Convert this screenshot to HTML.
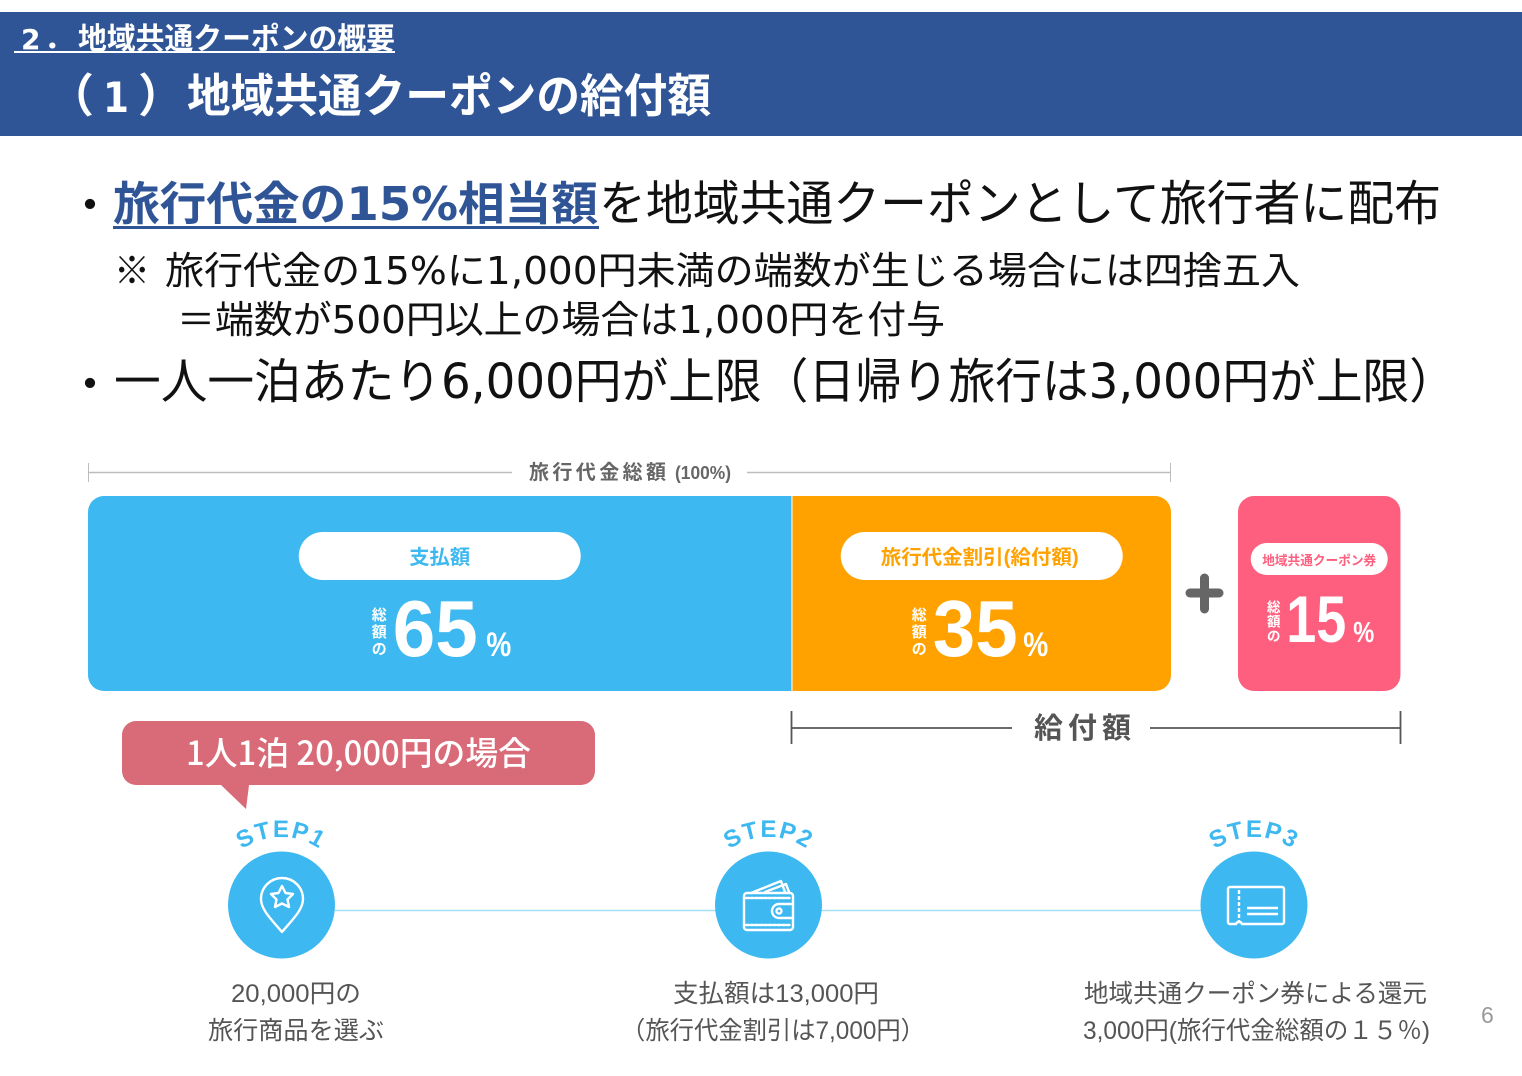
<!DOCTYPE html>
<html lang="ja">
<head>
<meta charset="utf-8">
<title>地域共通クーポンの給付額</title>
<style>
html,body{margin:0;padding:0;background:#fff;width:1522px;height:1076px;overflow:hidden}
svg{display:block;filter:blur(.35px)}
text{font-family:"Liberation Sans","Noto Sans CJK JP",sans-serif}
.cjk{font-family:"Noto Sans CJK JP","Liberation Sans",sans-serif}
.lib{font-family:"Liberation Sans","Noto Sans CJK JP",sans-serif}
.mei{font-family:"DejaVu Sans","Noto Sans CJK JP",sans-serif}
</style>
</head>
<body>
<svg id="slide" xmlns="http://www.w3.org/2000/svg" width="1522" height="1076" viewBox="0 0 1522 1076">
<defs>
<path id="arc1" d="M213 905 A68 68 0 0 1 349 905"/>
<path id="arc2" d="M700.5 905 A68 68 0 0 1 836.5 905"/>
<path id="arc3" d="M1186 905 A68 68 0 0 1 1322 905"/>
</defs>
<rect width="1522" height="1076" fill="#fff"/>

<!-- Header -->
<g>
<rect x="0" y="12" width="1522" height="124" fill="#2F5597"/>
<text class="mei" x="21" y="49" font-size="28" font-weight="700" fill="#fff">2</text>
<text class="cjk" x="44" y="49" font-size="30" font-weight="700" fill="#fff">．</text>
<text class="cjk" x="78" y="49" font-size="30" font-weight="700" fill="#fff" textLength="317" lengthAdjust="spacingAndGlyphs">地域共通クーポンの概要</text>
<rect x="14" y="51" width="381" height="2" fill="#fff"/>
<text class="cjk" x="48" y="112" font-size="46" font-weight="700" fill="#fff">（</text>
<text class="mei" x="103" y="112" font-size="42" font-weight="700" fill="#fff" textLength="26" lengthAdjust="spacingAndGlyphs">1</text>
<text class="cjk" x="138" y="112" font-size="46" font-weight="700" fill="#fff">）</text>
<text class="cjk" x="187" y="112" font-size="46" font-weight="700" fill="#fff" textLength="524" lengthAdjust="spacingAndGlyphs">地域共通クーポンの給付額</text>
</g>

<!-- Bullets -->
<g>
<text class="cjk" x="66" y="222" font-size="48" fill="#111">・</text>
<text class="mei" x="113" y="220" font-size="46" font-weight="700" fill="#2F5597" textLength="485" lengthAdjust="spacingAndGlyphs">旅行代金の15%相当額</text>
<rect x="113" y="226" width="486" height="3" fill="#2F5597"/>
<text class="cjk" x="599" y="220" font-size="48" fill="#111" textLength="842" lengthAdjust="spacingAndGlyphs">を地域共通クーポンとして旅行者に配布</text>
<text class="cjk" x="114" y="284" font-size="38" fill="#111" textLength="36" lengthAdjust="spacingAndGlyphs">※</text>
<text class="mei" x="165" y="284" font-size="38" fill="#111" textLength="1135" lengthAdjust="spacingAndGlyphs">旅行代金の15%に1,000円未満の端数が生じる場合には四捨五入</text>
<text class="cjk" x="177" y="333" font-size="38" fill="#111">＝</text>
<text class="mei" x="215" y="333" font-size="38" fill="#111" textLength="730" lengthAdjust="spacingAndGlyphs">端数が500円以上の場合は1,000円を付与</text>
<text class="cjk" x="66" y="401" font-size="48" fill="#111">・</text>
<text class="mei" x="114" y="398" font-size="48" fill="#111" textLength="1342" lengthAdjust="spacingAndGlyphs">一人一泊あたり6,000円が上限（日帰り旅行は3,000円が上限）</text>
</g>

<!-- Total bracket -->
<g>
<line x1="88" y1="472.5" x2="512" y2="472.5" stroke="#bdbdbd" stroke-width="1.5"/>
<line x1="747" y1="472.5" x2="1171" y2="472.5" stroke="#bdbdbd" stroke-width="1.5"/>
<line x1="88.5" y1="463" x2="88.5" y2="482" stroke="#bdbdbd" stroke-width="1"/>
<line x1="1170.5" y1="463" x2="1170.5" y2="482" stroke="#bdbdbd" stroke-width="1"/>
<text class="cjk" x="529" y="479" font-size="20" font-weight="700" fill="#666" textLength="137" lengthAdjust="spacing">旅行代金総額</text>
<text class="lib" x="675" y="479" font-size="18" font-weight="700" fill="#666" textLength="56" lengthAdjust="spacingAndGlyphs">(100%)</text>
</g>

<g id="bars"></g>

<!-- Plus -->
<g stroke="#666" stroke-width="9" stroke-linecap="round">
<line x1="1190" y1="593" x2="1219" y2="593"/>
<line x1="1204.5" y1="578" x2="1204.5" y2="609"/>
</g>

<!-- Payout bracket -->
<g stroke="#555" stroke-width="1.8">
<line x1="791.5" y1="711" x2="791.5" y2="744"/>
<line x1="1400.5" y1="711" x2="1400.5" y2="744"/>
<line x1="791" y1="728" x2="1012" y2="728"/>
<line x1="1150" y1="728" x2="1400" y2="728"/>
</g>
<text class="cjk" x="1034" y="738" font-size="29" font-weight="700" fill="#555" textLength="97" lengthAdjust="spacing">給付額</text>

<!-- Callout -->
<g>
<path d="M136 721 H581 a14 14 0 0 1 14 14 V771 a14 14 0 0 1 -14 14 H249 L246 809 L221 785 H136 a14 14 0 0 1 -14 -14 V735 a14 14 0 0 1 14 -14 Z" fill="#D96A78"/>
<text class="cjk" x="186" y="765" font-size="33" font-weight="500" fill="#fff" textLength="345" lengthAdjust="spacingAndGlyphs">1人1泊 20,000円の場合</text>
</g>

<!-- Steps -->
<line x1="335" y1="910.5" x2="1201" y2="910.5" stroke="#A5E0F7" stroke-width="1.6"/>

<g>
<circle cx="281.5" cy="905" r="53.5" fill="#3DB8F0"/>
<text font-size="24" font-weight="700" fill="#3DB8F0" letter-spacing="1.5"><textPath href="#arc1" startOffset="50%" text-anchor="middle">STEP1</textPath></text>
<g fill="none" stroke="#fff" stroke-width="2.4" stroke-linejoin="round">
<path d="M282 932 C272 920 261 910 261 899 A21 21 0 0 1 303 899 C303 910 292 920 282 932 Z"/>
<path d="M282 886 L285.5 893 L293 894 L287.5 899.5 L289 907 L282 903.5 L275 907 L276.5 899.5 L271 894 L278.5 893 Z"/>
</g>
<text class="lib" x="231" y="1002" font-size="25" fill="#555" textLength="130" lengthAdjust="spacingAndGlyphs">20,000円の</text>
<text class="cjk" x="208" y="1039" font-size="25" fill="#555" textLength="176" lengthAdjust="spacingAndGlyphs">旅行商品を選ぶ</text>
</g>

<g>
<circle cx="768.5" cy="905" r="53.5" fill="#3DB8F0"/>
<text font-size="24" font-weight="700" fill="#3DB8F0" letter-spacing="1.5"><textPath href="#arc2" startOffset="50%" text-anchor="middle">STEP2</textPath></text>
<g fill="none" stroke="#fff" stroke-width="2.4" stroke-linejoin="round" stroke-linecap="round">
<path d="M751 893 L781 881 L785 892"/>
<path d="M765 892 L786 884 L789 892"/>
<rect x="744" y="893" width="49" height="37" rx="3"/>
<path d="M746 898 H790 M746 925 H790" stroke-dasharray="3 1.5"/>
<path d="M793 904 H779 a7 7 0 0 0 0 14 H793"/>
<circle cx="779" cy="911" r="2.5"/>
</g>
<text class="lib" x="673" y="1002" font-size="25" fill="#555" textLength="206" lengthAdjust="spacingAndGlyphs">支払額は13,000円</text>
<text class="lib" x="621" y="1039" font-size="25" fill="#555" textLength="304" lengthAdjust="spacingAndGlyphs">（旅行代金割引は7,000円）</text>
</g>

<g>
<circle cx="1254" cy="905" r="53.5" fill="#3DB8F0"/>
<text font-size="24" font-weight="700" fill="#3DB8F0" letter-spacing="1.5"><textPath href="#arc3" startOffset="50%" text-anchor="middle">STEP3</textPath></text>
<g fill="none" stroke="#fff" stroke-width="2.4">
<path d="M1230 887 H1282 a2 2 0 0 1 2 2 V922 a2 2 0 0 1 -2 2 H1242 a3 3 0 0 0 -3 -2 a3 3 0 0 0 -3 2 H1230 a2 2 0 0 1 -2 -2 V889 a2 2 0 0 1 2 -2 Z"/>
<path d="M1239 890 V921" stroke-dasharray="4 2"/>
<path d="M1247 908 H1278 M1247 914 H1278"/>
</g>
<text class="cjk" x="1084" y="1002" font-size="25" fill="#555" textLength="343" lengthAdjust="spacingAndGlyphs">地域共通クーポン券による還元</text>
<text class="lib" x="1083" y="1039" font-size="25" fill="#555" textLength="347" lengthAdjust="spacingAndGlyphs">3,000円(旅行代金総額の１５％)</text>
</g>

<text class="lib" x="1481" y="1023" font-size="23" fill="#999">6</text>
</svg>

<script>
var categories = ['支払額', '旅行代金割引(給付額)', '地域共通クーポン券'];
var shareValues = [65, 35, 15];
var shareColors = ['#3DB8F0', '#FFA200', '#FF5F7E'];

var NS = 'http://www.w3.org/2000/svg';
var barsGroup = document.getElementById('bars');
var BAR_LEFT = 88, PER_PERCENT = 10.83, BAR_TOP = 496, BAR_BOTTOM = 691, R = 16, COUPON_LEFT = 1238;

function xWidth(v) { return v * PER_PERCENT; }

function roundedBar(x, w, roundLeft, roundRight) {
  var top = BAR_TOP, bottom = BAR_BOTTOM, r = R, d = '';
  var rl = roundLeft ? r : 0, rr = roundRight ? r : 0;
  d += 'M' + (x + rl) + ' ' + top + ' H' + (x + w - rr);
  if (rr) d += ' A' + rr + ' ' + rr + ' 0 0 1 ' + (x + w) + ' ' + (top + rr);
  d += ' V' + (bottom - rr);
  if (rr) d += ' A' + rr + ' ' + rr + ' 0 0 1 ' + (x + w - rr) + ' ' + bottom;
  d += ' H' + (x + rl);
  if (rl) d += ' A' + rl + ' ' + rl + ' 0 0 1 ' + x + ' ' + (bottom - rl);
  d += ' V' + (top + rl);
  if (rl) d += ' A' + rl + ' ' + rl + ' 0 0 1 ' + (x + rl) + ' ' + top;
  return d + ' Z';
}

function addText(parent, str, x, y, size, fill, anchor, len, weight) {
  var t = document.createElementNS(NS, 'text');
  t.setAttribute('x', x);
  t.setAttribute('y', y);
  t.setAttribute('font-size', size);
  t.setAttribute('fill', fill);
  t.setAttribute('font-weight', weight || 700);
  t.setAttribute('text-anchor', anchor);
  if (len) {
    t.setAttribute('textLength', len);
    t.setAttribute('lengthAdjust', 'spacingAndGlyphs');
  }
  t.textContent = str;
  parent.appendChild(t);
  return t;
}

function drawSegment(i, x, w, roundLeft, roundRight, big) {
  var g = document.createElementNS(NS, 'g');
  
  

  var bar = document.createElementNS(NS, 'path');
  
  
  bar.setAttribute('d', roundedBar(x, w, roundLeft, roundRight));
  bar.setAttribute('fill', shareColors[i]);
  g.appendChild(bar);

  var cx = x + w / 2;
  var pillW = big ? 282 : 137, pillH = big ? 48 : 32, pillY = big ? 532 : 543;
  var pill = document.createElementNS(NS, 'rect');
  
  
  pill.setAttribute('x', cx - pillW / 2);
  pill.setAttribute('y', pillY);
  pill.setAttribute('width', pillW);
  pill.setAttribute('height', pillH);
  pill.setAttribute('rx', pillH / 2);
  pill.setAttribute('fill', '#fff');
  g.appendChild(pill);

  var labelLen = [61, 198, 114][i];
  var lab = addText(g, categories[i], cx - (i === 1 ? 2 : 0), big ? 564 : 565, big ? 20 : 13, shareColors[i], 'middle', labelLen);
  
  

  var numCx = cx + [-4.5, -6.5, -3][i];
  var digits = String(shareValues[i]);
  var num = addText(g, digits, numCx, big ? 656 : 642, big ? 80 : 66, '#fff', 'middle', digits.length * (big ? 42.5 : 30));
  
  

  var pct = addText(g, '%', numCx + [51, 48, 37][i], big ? 656 : 642, big ? 34 : 29, '#fff', 'start', big ? 25 : 21);
  
  

  var sideX = numCx + (big ? -56 : -42.5);
  var chars = ['総', '額', 'の'];
  for (var k = 0; k < chars.length; k++) {
    var c = addText(g, chars[k], sideX, (big ? 620 : 612) + k * (big ? 17 : 14.5), big ? 15 : 13.5, '#fff', 'middle');
    
    
  }
  barsGroup.appendChild(g);
}

var x0 = BAR_LEFT;
var w0 = xWidth(shareValues[0]);
var w1 = xWidth(shareValues[1]);
var w2 = xWidth(shareValues[2]);
drawSegment(0, x0, w0 - 0.5, true, false, true);
drawSegment(1, x0 + w0 + 0.5, w1 - 0.5, false, true, true);
drawSegment(2, COUPON_LEFT, w2, true, true, false);
</script>
</body>
</html>
